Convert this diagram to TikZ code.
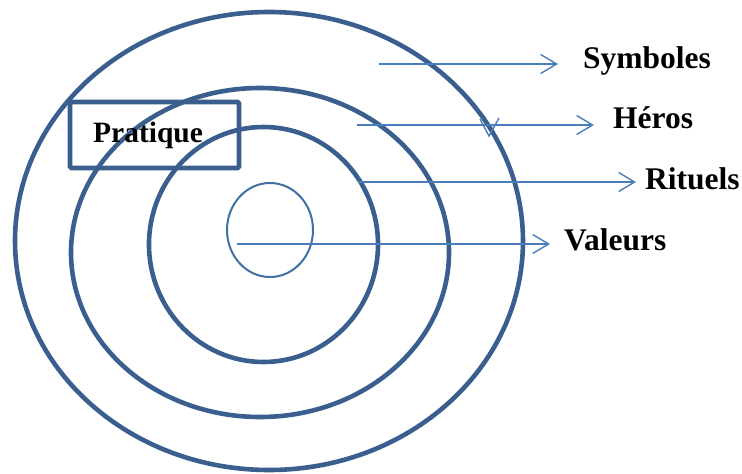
\documentclass[tikz,border=0pt]{standalone}
\usepackage{fontspec}
\setmainfont{Liberation Serif}
\usetikzlibrary{arrows.meta,shapes.geometric}
\definecolor{ringblue}{HTML}{3A5F8F}
\definecolor{coreblue}{HTML}{4170A3}
\definecolor{arrowblue}{HTML}{4A7EBB}
\begin{document}
\begin{tikzpicture}[x=1pt,y=-1pt,
  ring/.style={draw=ringblue,line width=4.6pt,ellipse,inner sep=0pt,outer sep=0pt},
  core/.style={draw=coreblue,line width=2pt,ellipse,inner sep=0pt,outer sep=0pt},
  pointer/.style={draw=arrowblue,line width=1.4pt,
    -{Straight Barb[length=16pt,width=19pt,line width=1.4pt]}},
  tag/.style={font=\bfseries\fontsize{31.5}{36}\selectfont,anchor=base west,inner sep=0pt},
  framebox/.style={draw=ringblue,line width=4.6pt,rounded corners=1.5pt,inner sep=0pt}
]
\useasboundingbox (0,0) rectangle (742,474);

% concentric layers
\node[ring, minimum width=508pt, minimum height=458pt] (symb) at (269,241) {};
\node[ring, minimum width=378pt, minimum height=329pt] (hero) at (260,252.5) {};
\node[ring, minimum width=229pt, minimum height=235pt] (ritu) at (263.5,244.5) {};
\node[core, minimum width=86pt, minimum height=94pt] (vale) at (270,230) {};

% practice frame
\node[framebox, minimum width=169pt, minimum height=66pt] (prbox) at (154.5,135) {};
\node[tag, font=\bfseries\fontsize{29.5}{34}\selectfont] (prtext) at (93,142) {Pratique};

% layer labels
\node[tag] (tsymb) at (583,68) {Symboles};
\node[tag] (thero) at (613,128) {Héros};
\node[tag] (tritu) at (645,189) {Rituels};
\node[tag] (tvale) at (564,250) {Valeurs};

% arrow start and tip points
\coordinate (s1) at (379,64);  \coordinate (e1) at (558,64);
\coordinate (s2) at (357,125); \coordinate (e2) at (594,125);
\coordinate (s3) at (358,182); \coordinate (e3) at (636,182);
\coordinate (s4) at (237,244); \coordinate (e4) at (550,244);

\draw[pointer] (s1) -- (e1);
\draw[pointer] (s2) -- (e2);
\draw[pointer] (s3) -- (e3);
\draw[pointer] (s4) -- (e4);

% small stray tip on the heroes line
\coordinate (v1) at (480,119);
\coordinate (v2) at (489,136);
\coordinate (v3) at (499,118);
\draw[arrowblue, line width=1.4pt] (v1) -- (v2) -- (v3);
\end{tikzpicture}
\end{document}
